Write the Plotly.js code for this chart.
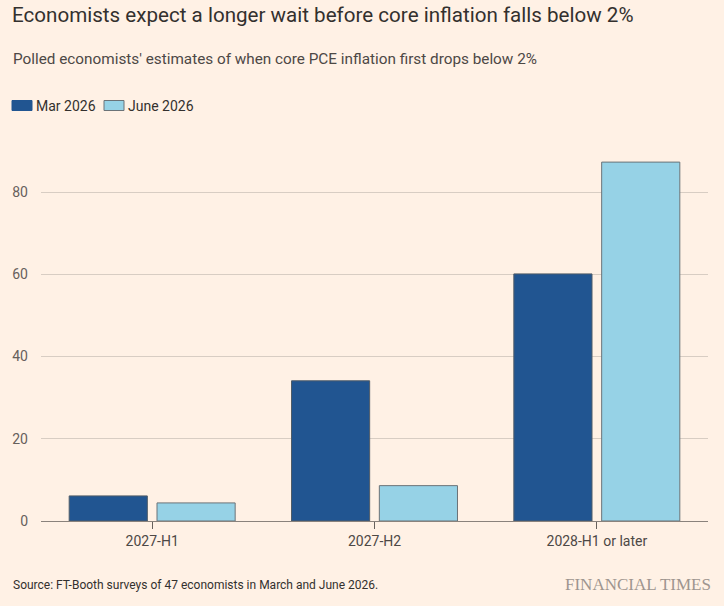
<!DOCTYPE html>
<html>
<head>
<meta charset="utf-8">
<script src="https://cdn.plot.ly/plotly-3.0.1.min.js"></script>
<style>html,body{margin:0;padding:0;background:#fff1e5;}#chart{width:724px;height:606px;}</style>
</head>
<body>
<div id="chart"></div>
<script>
const categories = ["2027-H1", "2027-H2", "2028-H1 or later"];
const seriesNames = ["Mar 2026", "June 2026"];
const marValues = [6.1, 34.1, 60.1];
const juneValues = [4.4, 8.6, 87.3];
const yTicks = [0, 20, 40, 60, 80];

const FONT = "Roboto, 'Noto Sans', sans-serif";
const COLORS = ["#215591", "#96d2e6"];
const LINES = ["#4f5c68", "#6b7378"];

// pixel helpers for plot area: left 41, width 667, bottom 521, height 370
const PX = p => (p - 41) / 667;
const PY = p => (521 - p) / 370;

const traces = [
  {type: "bar", name: seriesNames[0], x: categories, y: marValues, showlegend: false,
   marker: {color: COLORS[0], line: {color: LINES[0], width: 1}}, hoverinfo: "none"},
  {type: "bar", name: seriesNames[1], x: categories, y: juneValues, showlegend: false,
   marker: {color: COLORS[1], line: {color: LINES[1], width: 1}}, hoverinfo: "none"}
];

const legendX = [[12, 32, 35], [104, 124, 127]];
const shapes = seriesNames.map((n, i) => ({
  type: "rect", xref: "paper", yref: "paper",
  x0: PX(legendX[i][0]), x1: PX(legendX[i][1]), y0: PY(110.5), y1: PY(100.5),
  fillcolor: COLORS[i], line: {color: i === 0 ? COLORS[0] : LINES[1], width: 1}
}));
const legendAnn = seriesNames.map((n, i) => ({
  text: n, xref: "paper", yref: "paper", x: PX(legendX[i][2]) , y: PY(106),
  xanchor: "left", yanchor: "middle", showarrow: false, borderpad: 0,
  font: {family: FONT, size: 14, color: "#33302e"}
}));

const layout = {
  width: 724, height: 606,
  paper_bgcolor: "#fff1e5", plot_bgcolor: "#fff1e5",
  margin: {l: 41, r: 16, t: 151, b: 85},
  font: {family: FONT, color: "#4d4845", size: 14},
  barmode: "group", bargap: 0.21, bargroupgap: 0.11,
  showlegend: false,
  title: {text: "Economists expect a longer wait before core inflation falls below 2%",
          x: 12 / 724, xref: "container", xanchor: "left", y: 1 - 15 / 606, yref: "container", yanchor: "middle",
          pad: {l: 0, r: 0, t: 0, b: 0},
          font: {family: FONT, size: 20.6, color: "#33302e"}},
  xaxis: {type: "category", tickmode: "array", tickvals: categories, ticktext: categories,
          ticks: "outside", ticklen: 7, tickcolor: "#66605c", tickwidth: 1,
          showline: false, showgrid: false, zeroline: false, fixedrange: true,
          tickfont: {size: 14, color: "#4d4845"}},
  yaxis: {range: [0, 90], tickmode: "array", tickvals: yTicks, ticktext: yTicks.map(String),
          showgrid: true, gridcolor: "#d8cdc3", gridwidth: 1,
          zeroline: true, zerolinecolor: "#8a827c", zerolinewidth: 1,
          ticks: "", ticklabelstandoff: 12, fixedrange: true,
          tickfont: {size: 14, color: "#66605c"}},
  shapes: shapes,
  annotations: legendAnn.concat([
    {text: "Polled economists' estimates of when core PCE inflation first drops below 2%",
     xref: "paper", yref: "paper", x: PX(12), y: PY(59), xanchor: "left", yanchor: "middle", borderpad: 0,
     showarrow: false, font: {family: FONT, size: 15.3, color: "#4d4845"}},
    {text: "Source: FT-Booth surveys of 47 economists in March and June 2026.",
     xref: "paper", yref: "paper", x: PX(12), y: PY(585), xanchor: "left", yanchor: "middle", borderpad: 0,
     showarrow: false, font: {family: FONT, size: 12, color: "#33302e"}},
    {text: "FINANCIAL TIMES",
     xref: "paper", yref: "paper", x: PX(712), y: PY(584), xanchor: "right", yanchor: "middle", borderpad: 0,
     showarrow: false, font: {family: "'Liberation Serif', 'DejaVu Serif', serif", size: 17, color: "#9e958f"}}
  ])
};

Plotly.newPlot("chart", traces, layout, {displayModeBar: false, staticPlot: true});
</script>
</body>
</html>
